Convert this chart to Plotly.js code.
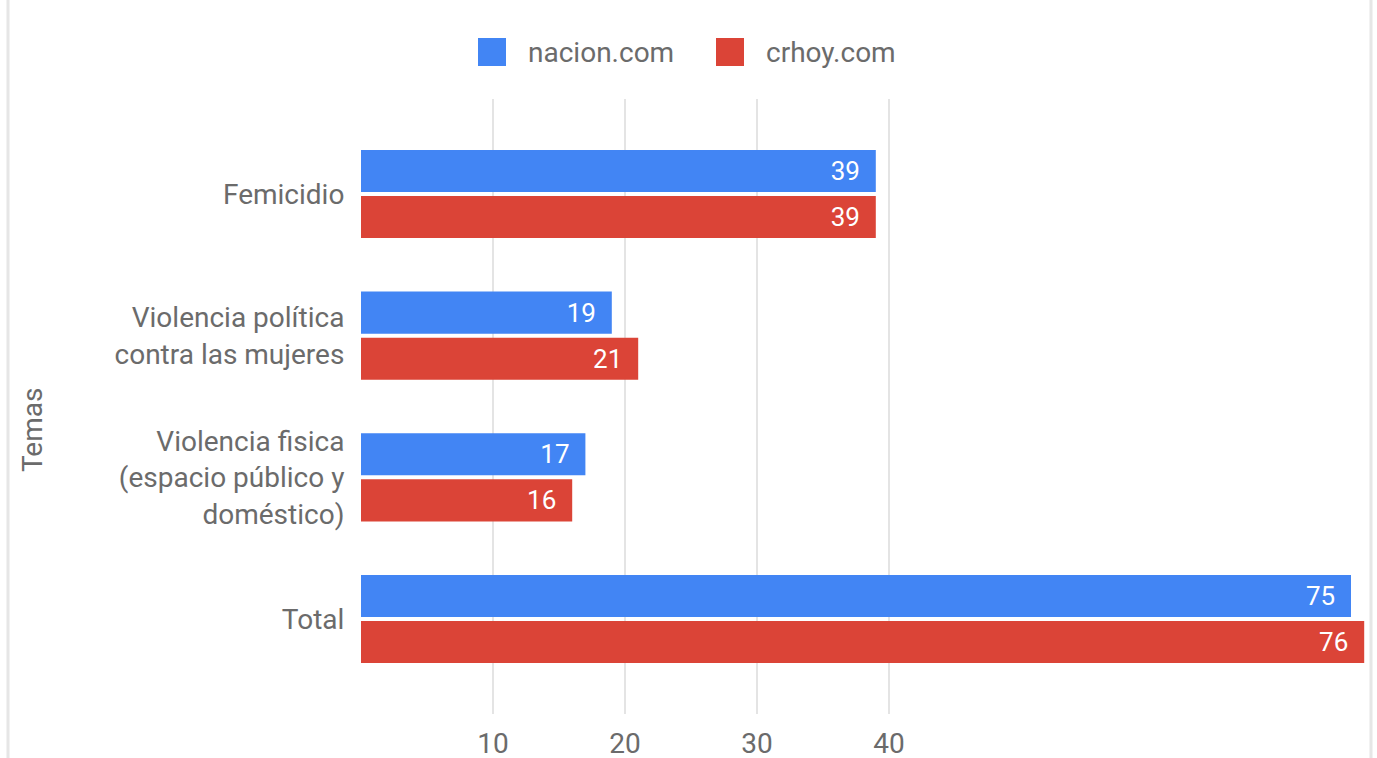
<!DOCTYPE html>
<html>
<head>
<meta charset="utf-8">
<script src="https://cdn.plot.ly/plotly-3.0.1.min.js"></script>
<style>
html,body{margin:0;padding:0;background:#fff;}
#chart{width:1377px;height:758px;}
</style>
</head>
<body>
<div id="chart"></div>
<script>
// ---- data ----
const categories = [
  "Femicidio",
  "Violencia política<br>contra las mujeres",
  "Violencia fisica<br>(espacio público y<br>doméstico)",
  "Total"
];
const seriesNames = ["nacion.com", "crhoy.com"];
const seriesColors = ["#4285F4", "#DB4437"];
const nacionValues = [39, 19, 17, 75];
const crhoyValues = [39, 21, 16, 76];
const xTickVals = [10, 20, 30, 40];
const xTickText = ["10", "20", "30", "40"];
const axisTitleY = "Temas";

// ---- layout geometry (pixels) ----
const W = 1377, H = 758;
const M = {l: 361, r: 7, t: 99, b: 44};
const PW = W - M.l - M.r, PH = H - M.t - M.b;
const px = x => (x - M.l) / PW;
const py = y => 1 - (y - M.t) / PH;

const FONT = "Roboto, Arial, sans-serif";
const GRAY = "#6b6b6b";

const values = [nacionValues, crhoyValues];
const traces = values.map((v, i) => ({
  type: "bar",
  orientation: "h",
  name: seriesNames[i],
  y: categories,
  x: v,
  marker: {color: seriesColors[i]},
  text: v.map(String),
  texttemplate: "%{text}&nbsp;&nbsp;",
  textposition: "inside",
  insidetextanchor: "end",
  constraintext: "none",
  textfont: {family: FONT, size: 26, color: "#ffffff"},
  hoverinfo: "x+y",
  showlegend: false
}));

// manual legend (large squares like the reference)
const shapes = [];
const annotations = [];
const legendItems = [{sq: 478, tx: 526}, {sq: 716, tx: 764}];
seriesNames.forEach((name, i) => {
  const it = legendItems[i];
  shapes.push({
    type: "rect", xref: "paper", yref: "paper",
    x0: px(it.sq), x1: px(it.sq + 28), y0: py(38), y1: py(66),
    fillcolor: seriesColors[i], line: {width: 0}
  });
  annotations.push({
    xref: "paper", yref: "paper", x: px(it.tx), y: py(52),
    xanchor: "left", yanchor: "middle", showarrow: false,
    text: name, font: {family: FONT, size: 28, color: GRAY}
  });
});

// axis title
annotations.push({
  xref: "paper", yref: "paper", x: px(32), y: py(430),
  xanchor: "center", yanchor: "middle", showarrow: false, textangle: -90,
  text: axisTitleY, font: {family: FONT, size: 28, color: GRAY}
});

// container borders
[8, 1371].forEach(xb => shapes.push({
  type: "line", xref: "paper", yref: "paper",
  x0: px(xb), x1: px(xb), y0: py(0), y1: py(758),
  line: {color: "#e6e6e6", width: 3}
}));

const layout = {
  width: W, height: H,
  margin: M,
  paper_bgcolor: "#ffffff",
  plot_bgcolor: "#ffffff",
  barmode: "group",
  bargap: 0.35,
  bargroupgap: 0.087,
  font: {family: FONT, size: 28, color: GRAY},
  xaxis: {
    range: [0, PW / 13.2],
    tickvals: xTickVals,
    ticktext: xTickText,
    showgrid: true,
    gridcolor: "#e4e4e4",
    gridwidth: 2,
    zeroline: false,
    showline: false,
    ticks: "outside",
    ticklen: 4,
    tickcolor: "rgba(0,0,0,0)",
    tickfont: {family: FONT, size: 28, color: GRAY},
    fixedrange: true
  },
  yaxis: {
    type: "category",
    categoryorder: "array",
    categoryarray: categories,
    range: [3.67, -0.67],
    showgrid: false,
    zeroline: false,
    showline: false,
    ticks: "outside",
    ticklen: 10,
    tickcolor: "rgba(0,0,0,0)",
    tickfont: {family: FONT, size: 28, color: GRAY},
    fixedrange: true
  },
  shapes: shapes,
  annotations: annotations,
  showlegend: false
};

Plotly.newPlot("chart", traces, layout, {displayModeBar: false, staticPlot: true});
</script>
</body>
</html>
